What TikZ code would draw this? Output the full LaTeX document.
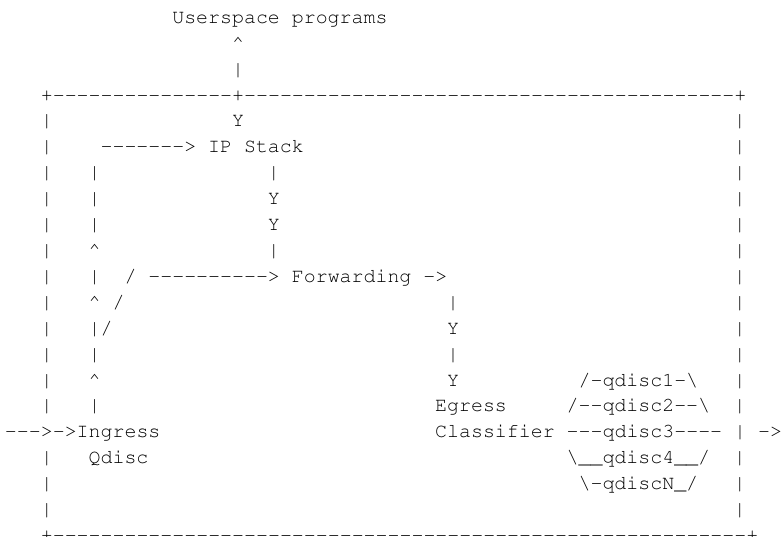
\documentclass[tikz,border=0pt]{standalone}
\usepackage[T1]{fontenc}
\ExplSyntaxOn
\NewDocumentCommand\mydash{m}{\prg_replicate:nn{#1}{-{}}}
\ExplSyntaxOff
\newcommand\ascii[4]{\node[asc] (#1) at ({5+11.95*(#2)},{-(23.4+25.9*(#3))}) {#4};}
\begin{document}
\begin{tikzpicture}[x=1pt,y=1pt,
  asc/.style={anchor=base west, inner sep=0pt, outer sep=0pt, text=black,
    font=\fontencoding{T1}\fontfamily{pcr}\fontsize{19.93}{24}\selectfont}]
\useasboundingbox (0,-537) rectangle (782,0);
\fill[white] (0,-537) rectangle (782,0);
% line 0-3
\ascii{l0}{14}{0}{Userspace programs}
\ascii{l1}{19}{1}{\textasciicircum}
\ascii{l2}{19}{2}{|}
\ascii{l3}{3}{3}{+\mydash{15}+\mydash{41}+}
% line 4
\ascii{l4a}{3}{4}{|}
\ascii{l4b}{19}{4}{Y}
\ascii{l4c}{61}{4}{|}
% line 5
\ascii{l5a}{3}{5}{|}
\ascii{l5b}{8}{5}{\mydash{7}> IP Stack}
\ascii{l5c}{61}{5}{|}
% line 6
\ascii{l6a}{3}{6}{|}
\ascii{l6b}{7}{6}{|}
\ascii{l6c}{22}{6}{|}
\ascii{l6d}{61}{6}{|}
% line 7
\ascii{l7a}{3}{7}{|}
\ascii{l7b}{7}{7}{|}
\ascii{l7c}{22}{7}{Y}
\ascii{l7d}{61}{7}{|}
% line 8
\ascii{l8a}{3}{8}{|}
\ascii{l8b}{7}{8}{|}
\ascii{l8c}{22}{8}{Y}
\ascii{l8d}{61}{8}{|}
% line 9
\ascii{l9a}{3}{9}{|}
\ascii{l9b}{7}{9}{\textasciicircum}
\ascii{l9c}{22}{9}{|}
\ascii{l9d}{61}{9}{|}
% line 10
\ascii{l10a}{3}{10}{|}
\ascii{l10b}{7}{10}{|}
\ascii{l10c}{10}{10}{/}
\ascii{l10d}{12}{10}{\mydash{10}> Forwarding -{}>}
\ascii{l10e}{61}{10}{|}
% line 11
\ascii{l11a}{3}{11}{|}
\ascii{l11b}{7}{11}{\textasciicircum}
\ascii{l11c}{9}{11}{/}
\ascii{l11d}{37}{11}{|}
\ascii{l11e}{61}{11}{|}
% line 12
\ascii{l12a}{3}{12}{|}
\ascii{l12b}{7}{12}{|/}
\ascii{l12c}{37}{12}{Y}
\ascii{l12d}{61}{12}{|}
% line 13
\ascii{l13a}{3}{13}{|}
\ascii{l13b}{7}{13}{|}
\ascii{l13c}{37}{13}{|}
\ascii{l13d}{61}{13}{|}
% line 14
\ascii{l14a}{3}{14}{|}
\ascii{l14b}{7}{14}{\textasciicircum}
\ascii{l14c}{37}{14}{Y}
\ascii{l14d}{48}{14}{/-qdisc1-\textbackslash}
\ascii{l14e}{61}{14}{|}
% line 15
\ascii{l15a}{3}{15}{|}
\ascii{l15b}{7}{15}{|}
\ascii{l15c}{36}{15}{Egress}
\ascii{l15d}{47}{15}{/-{}-qdisc2-{}-\textbackslash}
\ascii{l15e}{61}{15}{|}
% line 16
\ascii{l16a}{0}{16}{\mydash{3}>-{}>Ingress}
\ascii{l16b}{36}{16}{Classifier \mydash{3}qdisc3\mydash{4} | -{}>}
% line 17
\ascii{l17a}{3}{17}{|}
\ascii{l17b}{7}{17}{Qdisc}
\ascii{l17c}{47}{17}{\textbackslash\_\_qdisc4\_\_/}
\ascii{l17d}{61}{17}{|}
% line 18
\ascii{l18a}{3}{18}{|}
\ascii{l18b}{48}{18}{\textbackslash-qdiscN\_/}
\ascii{l18c}{61}{18}{|}
% line 19
\ascii{l19a}{3}{19}{|}
\ascii{l19b}{61}{19}{|}
% line 20
\ascii{l20}{3}{20}{+\mydash{58}+}
\end{tikzpicture}
\end{document}
